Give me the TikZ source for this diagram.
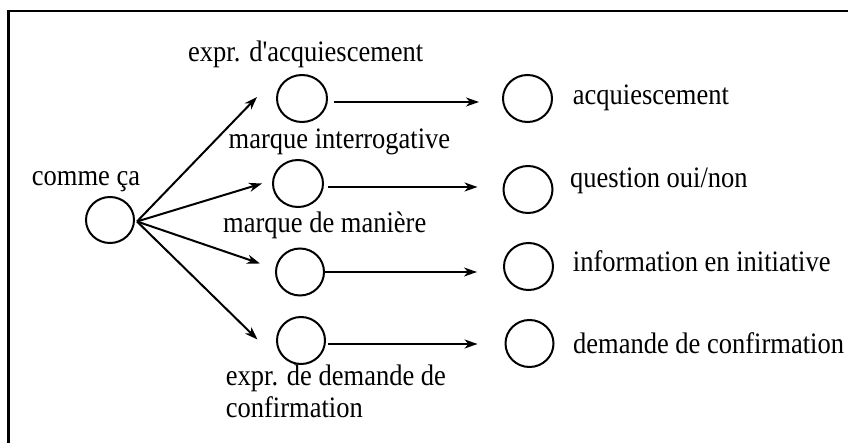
\documentclass[tikz,border=0pt]{standalone}
\usepackage{fontspec}
\usepackage{graphicx}
\setmainfont{Liberation Serif}
\usetikzlibrary{shapes.geometric,arrows.meta}
\newcommand\talltxt[1]{\scalebox{1}[1.12]{#1}}
\tikzset{
  state/.style={draw,ellipse,line width=2pt,minimum width=48pt,minimum height=46pt,inner sep=0pt},
  lbl/.style={anchor=base west,inner sep=0pt,font=\fontsize{26.5}{32}\selectfont},
  arr/.style={line width=2pt,-{Stealth[length=13pt,width=9pt,inset=4pt]}},
  frameline/.style={line width=2.4pt}
}
\begin{document}
\begin{tikzpicture}[x=1pt,y=-1pt]
\useasboundingbox (0,0) rectangle (848,443);
\draw[frameline] (8.5,443) -- (8.5,11) -- (848,11);

\node[state] (s) at (110,220) {};
\node[state,minimum width=50pt,minimum height=47pt] (m1) at (302,98.5) {};
\node[state,minimum width=50pt,minimum height=47pt] (m2) at (298,183.5) {};
\node[state,minimum width=48pt,minimum height=47pt] (m3) at (300,272) {};
\node[state,minimum width=48pt,minimum height=47pt] (m4) at (301,340.5) {};
\node[state,minimum width=49pt,minimum height=47pt] (r1) at (527.5,98.5) {};
\node[state,minimum width=49pt,minimum height=47pt] (r2) at (528,189.5) {};
\node[state,minimum width=49pt,minimum height=47pt] (r3) at (528.5,266.5) {};
\node[state,minimum width=48pt,minimum height=47pt] (r4) at (529.5,343.5) {};

\node[lbl] (ls) at (31.7,186) {\talltxt{comme ça}};
\node[lbl] (l1) at (188,61.5) {\talltxt{expr. d\textquotesingle acquiescement}};
\node[lbl] (l2) at (228.5,149) {\talltxt{marque interrogative}};
\node[lbl] (l3) at (223,233) {\talltxt{marque de manière}};
\node[lbl,anchor=north west,align=left] (l4) at (225.7,365) {\talltxt{expr. de demande de}\\\talltxt{confirmation}};
\node[lbl] (lr1) at (572.7,105) {\talltxt{acquiescement}};
\node[lbl] (lr2) at (570,188) {\talltxt{question oui/non}};
\node[lbl] (lr3) at (572.7,271.7) {\talltxt{information en initiative}};
\node[lbl] (lr4) at (573,353) {\talltxt{demande de confirmation}};

\coordinate (o) at (137,221.5);
\coordinate (t1) at (257,97);
\coordinate (t2) at (262,183.5);
\coordinate (t3) at (260,263.5);
\coordinate (t4) at (257.5,339.5);
\draw[arr] (o) -- (t1);
\draw[arr] (o) -- (t2);
\draw[arr] (o) -- (t3);
\draw[arr] (o) -- (t4);

\draw[arr] ([xshift=6pt,yshift=-3.5pt]m1.east) -- ([xshift=-23pt,yshift=-3.5pt]m1.east -| r1.west);
\draw[arr] ([xshift=4pt,yshift=-3.5pt]m2.east) -- ([xshift=-25pt,yshift=-3.5pt]m2.east -| r2.west);
\draw[arr] (m3.east) -- ([xshift=-26pt]m3.east -| r3.west);
\draw[arr] ([xshift=2pt,yshift=-3.5pt]m4.east) -- ([xshift=-27pt,yshift=-3.5pt]m4.east -| r4.west);
\end{tikzpicture}
\end{document}
